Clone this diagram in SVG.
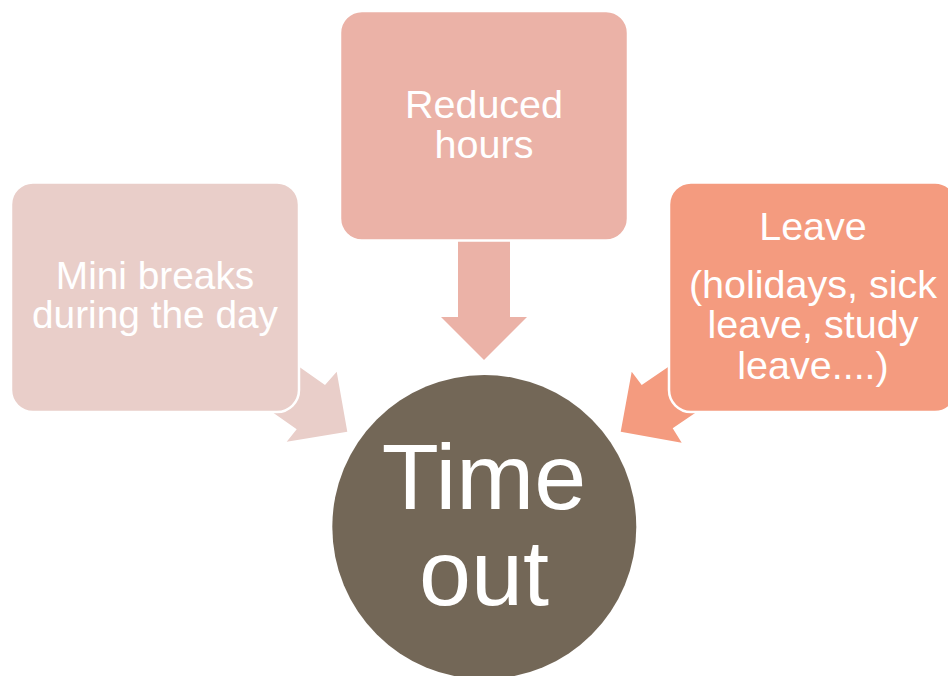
<svg xmlns="http://www.w3.org/2000/svg" width="948" height="676" viewBox="0 0 948 676">
<style>
.box{stroke:#ffffff;stroke-width:2.5}
.lbl{font-family:"Liberation Sans",Arial,sans-serif;font-size:39.5px;fill:#ffffff;text-anchor:middle}
.sm{font-size:38.8px}
.big{font-family:"Liberation Sans",Arial,sans-serif;font-size:93.5px;fill:#ffffff;text-anchor:middle}
</style>
<rect width="948" height="676" fill="#ffffff"/>
<g id="connectors">
<polygon fill="#E9CEC9" points="276,350.5 325,385 336.7,371.7 347.3,431.7 286.7,441.7 296.7,429.3 247.6,394.8"/>
<polygon fill="#EBB2A7" points="458,230 510,230 510,317 527,317 484,360 441,317 458,317"/>
<polygon fill="#F49B7F" points="691.3,351.3 641.7,385 631.7,371.7 620.7,431.7 681.7,442.7 672.7,428.3 722.3,394.6"/>
</g>
<g id="node-mini">
<rect class="box" x="11" y="182.5" width="288" height="229.5" rx="22" fill="#E9CEC9"/>
<text class="lbl sm" x="155" y="288.5">Mini breaks</text>
<text class="lbl sm" x="155" y="328">during the day</text>
</g>
<g id="node-reduced">
<rect class="box" x="340" y="11" width="288" height="229.5" rx="22" fill="#EBB2A7"/>
<text class="lbl" x="484" y="118">Reduced</text>
<text class="lbl" x="484" y="158">hours</text>
</g>
<g id="node-leave">
<rect class="box" x="669" y="182.5" width="288" height="229.5" rx="22" fill="#F49B7F"/>
<text class="lbl" x="813" y="240">Leave</text>
<text class="lbl" x="813" y="298">(holidays, sick</text>
<text class="lbl" x="813" y="338">leave, study</text>
<text class="lbl" x="813" y="379">leave....)</text>
</g>
<g id="node-timeout">
<circle cx="484.3" cy="527" r="152" fill="#736757"/>
<text class="big" x="484" y="509">Time</text>
<text class="big" x="484" y="605">out</text>
</g>
</svg>
